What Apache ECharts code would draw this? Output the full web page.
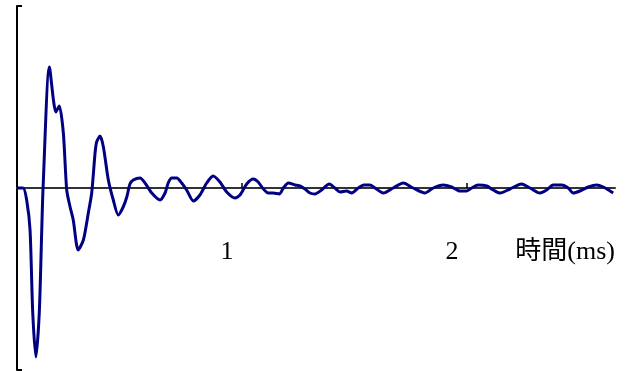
<!DOCTYPE html>
<html>
<head>
<meta charset="utf-8">
<script src="https://cdn.jsdelivr.net/npm/echarts@6/dist/echarts.min.js"></script>
<style>html,body{margin:0;padding:0;background:#fff}#c{width:629px;height:371px}</style>
</head>
<body>
<div id="c"></div>
<script>
// time in ms
var timeMs = [0,0.027,0.043,0.058,0.070,0.084,0.099,0.110,0.116,0.144,0.173,0.188,0.206,0.221,0.236,0.250,0.272,0.295,0.317,0.332,0.347,0.354,0.369,0.384,0.406,0.428,0.450,0.472,0.488,0.502,0.517,0.547,0.569,0.599,0.636,0.658,0.672,0.688,0.710,0.732,0.754,0.784,0.813,0.843,0.872,0.902,0.932,0.969,0.991,1.021,1.050,1.072,1.095,1.117,1.139,1.166,1.184,1.206,1.236,1.258,1.280,1.302,1.324,1.354,1.388,1.413,1.436,1.465,1.488,1.517,1.542,1.569,1.591,1.628,1.672,1.717,1.761,1.813,1.850,1.894,1.932,1.969,1.999,2.021,2.050,2.088,2.117,2.147,2.191,2.243,2.280,2.324,2.354,2.383,2.421,2.450,2.472,2.502,2.539,2.576,2.606,2.636,2.650];
// signal amplitude (arbitrary units)
var amplitude = [0,0,-12,-42,-125,-169,-125,-42,1,121,76,82,55,-2,-19,-32,-62,-52,-25,-5,35,46,52,41,8,-12,-27,-19,-9,4,8,10,5,-5,-12,-5,5,10,10,5,-2,-13,-7,5,12,6,-4,-10,-7,4,9,6,-1,-5,-5,-6,0,5,3,2,-1,-5,-6,-2,4,0,-4,-3,-5,0,3,3,0,-5,0,5,0,-5,0,3,1,-3,-3,0,3,2,-2,-5,-1,4,0,-5,-2,3,3,0,-5,-3,1,3,1,-3,-5];
var xTickValues = [1, 2];
var xTickLabels = ['1', '2'];
var xAxisTitle = '時間(ms)';

var pts = timeMs.map(function (t, i) { return [t, amplitude[i]]; });
var chart = echarts.init(document.getElementById('c'), null, {renderer: 'canvas'});
chart.setOption({
  animation: false,
  backgroundColor: '#fff',
  grid: {left: 17, top: 6, width: 598, height: 364, containLabel: false, outerBoundsMode: 'none'},
  xAxis: {
    type: 'value', min: 0, max: 2.658,
    axisLine: {onZero: true, lineStyle: {color: '#333', width: 2}},
    axisTick: {show: true, inside: true, length: 5, customValues: xTickValues, lineStyle: {color: '#000', width: 1.5}},
    axisLabel: {
      customValues: xTickValues,
      formatter: function (v) { var i = xTickValues.indexOf(v); return i >= 0 ? xTickLabels[i] : ''; },
      margin: -118, verticalAlign: 'middle', padding: [0, 30, 0, 0],
      fontFamily: 'Liberation Serif', fontSize: 26, color: '#000'
    },
    splitLine: {show: false}
  },
  yAxis: {
    type: 'value', min: -182, max: 182,
    axisLine: {show: true, onZero: false, lineStyle: {color: '#000', width: 2}},
    axisTick: {show: true, inside: true, length: 5, customValues: [-182, 182], lineStyle: {color: '#000', width: 2}},
    axisLabel: {show: false},
    splitLine: {show: false}
  },
  graphic: [{
    type: 'text', x: 615, y: 252,
    style: {text: xAxisTitle, align: 'right', verticalAlign: 'middle', fontFamily: 'Liberation Serif, Noto Sans CJK JP', fontSize: 26, fill: '#000'}
  }],
  series: [{
    type: 'line', data: pts, showSymbol: false, smooth: 0.25,
    lineStyle: {color: '#000080', width: 3}, z: 1
  }]
});
</script>
</body>
</html>
